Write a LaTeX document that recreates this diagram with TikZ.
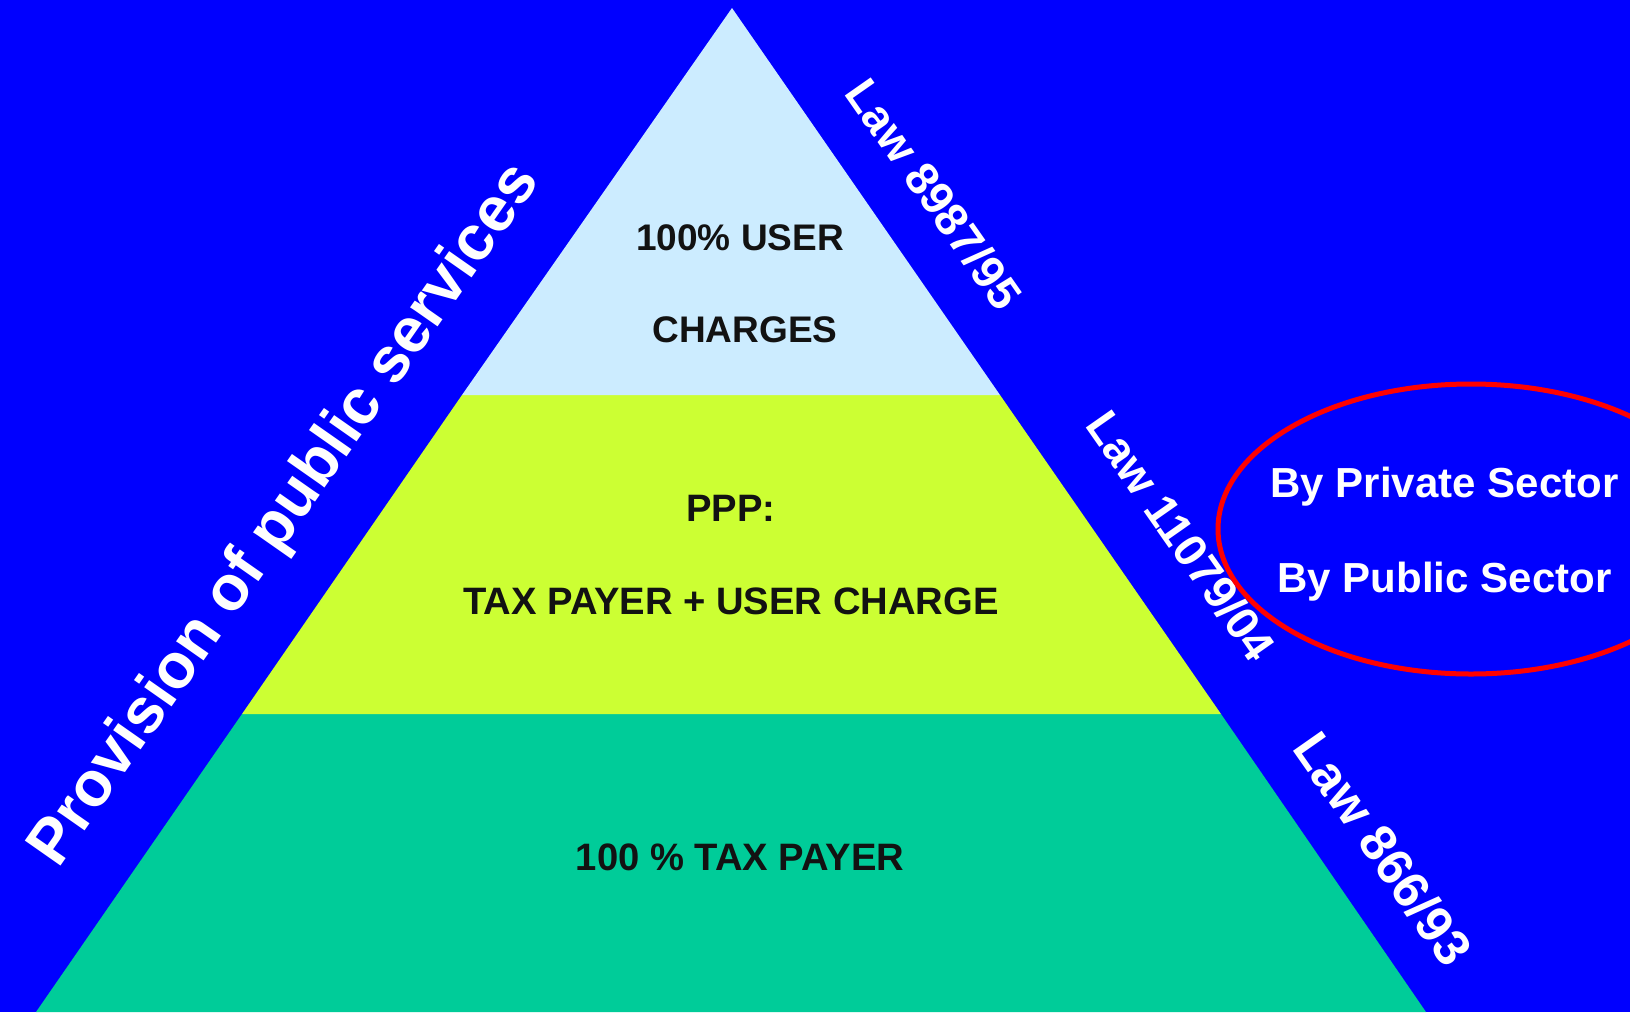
\documentclass[tikz,border=0pt]{standalone}
\usepackage{fontspec}
\setmainfont{Liberation Sans}
\begin{document}
\begin{tikzpicture}[x=1pt,y=-1pt,
  band/.style={draw=none},
  tiertext/.style={font=\fontsize{37}{40}\selectfont\bfseries, text=black!93, inner sep=0pt, anchor=base},
  widetier/.style={tiertext, font=\fontsize{38.2}{41}\selectfont\bfseries},
  lawtext/.style={font=\fontsize{46}{50}\selectfont\bfseries, text=white, inner sep=0pt, rotate=-55},
  sectortext/.style={font=\fontsize{42}{46}\selectfont\bfseries, text=white, inner sep=0pt, anchor=base}]
\definecolor{bgblue}{HTML}{0000FF}
\definecolor{topband}{HTML}{CCECFF}
\definecolor{midband}{HTML}{CCFF33}
\definecolor{lowband}{HTML}{00CC99}
\definecolor{ringred}{HTML}{FF0000}

% canvas
\useasboundingbox (0,0) rectangle (1630,1012);
\fill[bgblue] (0,0) rectangle (1630,1012);

% pyramid corners and tier boundaries
\coordinate (apex) at (732,8);
\coordinate (l1) at (462,395);
\coordinate (r1) at (1000,395);
\coordinate (l2) at (242,714);
\coordinate (r2) at (1221,714);
\coordinate (bl) at (36,1012);
\coordinate (br) at (1426,1012);

\fill[band, lowband] (l2) -- (r2) -- (br) -- (bl) -- cycle;
\fill[band, midband] (l1) -- (r1) -- (r2) -- (l2) -- cycle;
\fill[band, topband] (apex) -- (r1) -- (l1) -- cycle;

% tier labels
\node[tiertext] (t1a) at (740,250) {100\% USER};
\node[tiertext] (t1b) at (745,342) {CHARGES};
\node[widetier] (t2a) at (731,521) {PPP:};
\node[widetier] (t2b) at (731,614) {TAX PAYER + USER CHARGE};
\node[widetier] (t3) at (740,870) {100 \% TAX PAYER};

% laws along the right side
\node[lawtext] (law1) at (934,194) {Law 8987/95};
\node[lawtext] (law2) at (1181,536) {Law 11079/04};
\node[lawtext, font=\fontsize{51}{55}\selectfont\bfseries] (law3) at (1383,849) {Law 866/93};

% side title
\node[font=\fontsize{63.3}{66}\selectfont\bfseries, text=white, inner sep=0pt, rotate=55] (title) at (286,515.5) {Provision of public services};

% provider ring
\draw[ringred, line width=5pt] (1471,529) ellipse [x radius=253, y radius=145];
\node[sectortext] (priv) at (1444.5,497) {By Private Sector};
\node[sectortext] (pub) at (1444.5,592) {By Public Sector};
\end{tikzpicture}
\end{document}
